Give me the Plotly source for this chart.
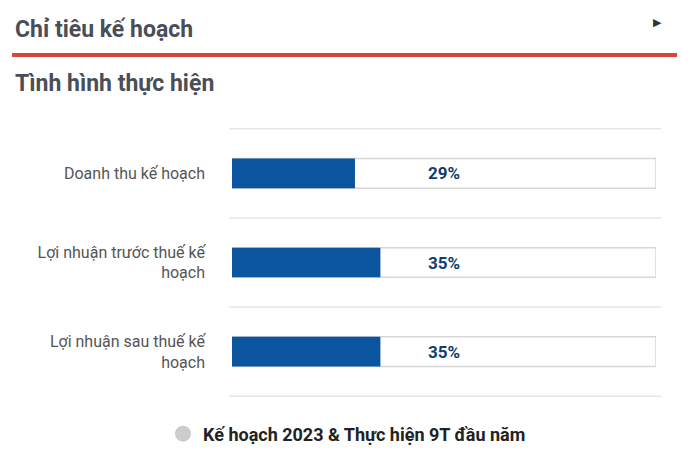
import plotly.graph_objects as go

categories = ["Doanh thu kế hoạch", "Lợi nhuận trước thuế kế<br>hoạch", "Lợi nhuận sau thuế kế<br>hoạch"]
actual_pct = [29, 35, 35]
plan_pct = [100, 100, 100]
value_labels = ["29%", "35%", "35%"]
legend_name = "Kế hoạch 2023 & Thực hiện 9T đầu năm"
title_text = "Chỉ tiêu kế hoạch"
subtitle_text = "Tình hình thực hiện"

OFF = 8  # page body margin
W, H = 690 - OFF, 470 - OFF
L, R, T, B = 232 - OFF, 656 - OFF, 128 - OFF, 397 - OFF
pw, ph = R - L, B - T

def px(x):
    return (x - OFF - L) / pw

def py(y):
    return 1 - (y - OFF - T) / ph

fig = go.Figure()
fig.add_trace(go.Bar(
    y=categories, x=plan_pct, orientation="h",
    marker=dict(color="white", line=dict(color="#d6d6d6", width=1.5)),
    text=value_labels, textposition="inside", insidetextanchor="middle",
    textfont=dict(family="Roboto", size=17, color="#123e6e", weight="bold"),
    showlegend=False, hoverinfo="skip",
))
fig.add_trace(go.Bar(
    y=categories, x=actual_pct, orientation="h",
    marker=dict(color="#0b559e", line=dict(width=0)),
    showlegend=False, hoverinfo="skip",
))
fig.add_trace(go.Scatter(
    x=[None], y=[None], mode="markers", name=legend_name,
    marker=dict(symbol="circle", size=17, color="#cccccc"),
))

shapes = []
for i in range(len(categories) + 1):
    shapes.append(dict(type="line", xref="paper", yref="y",
                       x0=px(229), x1=px(661), y0=i - 0.5, y1=i - 0.5,
                       line=dict(color="#e6e6e6", width=1.5), layer="below"))
shapes.append(dict(type="line", xref="paper", yref="paper",
                   x0=px(12), x1=px(677), y0=py(55), y1=py(55),
                   line=dict(color="#d8453a", width=4)))

annotations = [
    dict(text=title_text, xref="paper", yref="paper", x=px(13), y=py(29),
         xanchor="left", yanchor="middle", showarrow=False,
         font=dict(family="Roboto", size=23, color="#4a4e57", weight="bold")),
    dict(text=subtitle_text, xref="paper", yref="paper", x=px(13), y=py(84),
         xanchor="left", yanchor="middle", showarrow=False,
         font=dict(family="Roboto", size=23, color="#4a4e57", weight="bold")),
    dict(text="▶", xref="paper", yref="paper", x=px(657), y=py(22),
         xanchor="center", yanchor="middle", showarrow=False,
         font=dict(family="DejaVu Sans", size=11, color="#333333")),
]

fig.update_layout(
    width=W, height=H,
    margin=dict(l=L, r=W - R, t=T, b=H - B, pad=0),
    paper_bgcolor="white", plot_bgcolor="white",
    barmode="overlay", bargap=0.667,
    xaxis=dict(range=[0, 100], visible=False, fixedrange=True),
    yaxis=dict(autorange="reversed", showgrid=False, zeroline=False, showline=False,
               ticks="", ticklabelstandoff=26,
               tickfont=dict(family="Roboto", size=16, color="#555555")),
    shapes=shapes, annotations=annotations,
    showlegend=True,
    legend=dict(orientation="h", xref="container", yref="container",
                x=(347 - OFF) / W, y=1 - (434 - OFF) / H, xanchor="center", yanchor="middle",
                font=dict(family="Roboto", size=18, color="#222222", weight="bold"),
                itemsizing="trace", itemwidth=30),
)

fig.write_html("out.html")
